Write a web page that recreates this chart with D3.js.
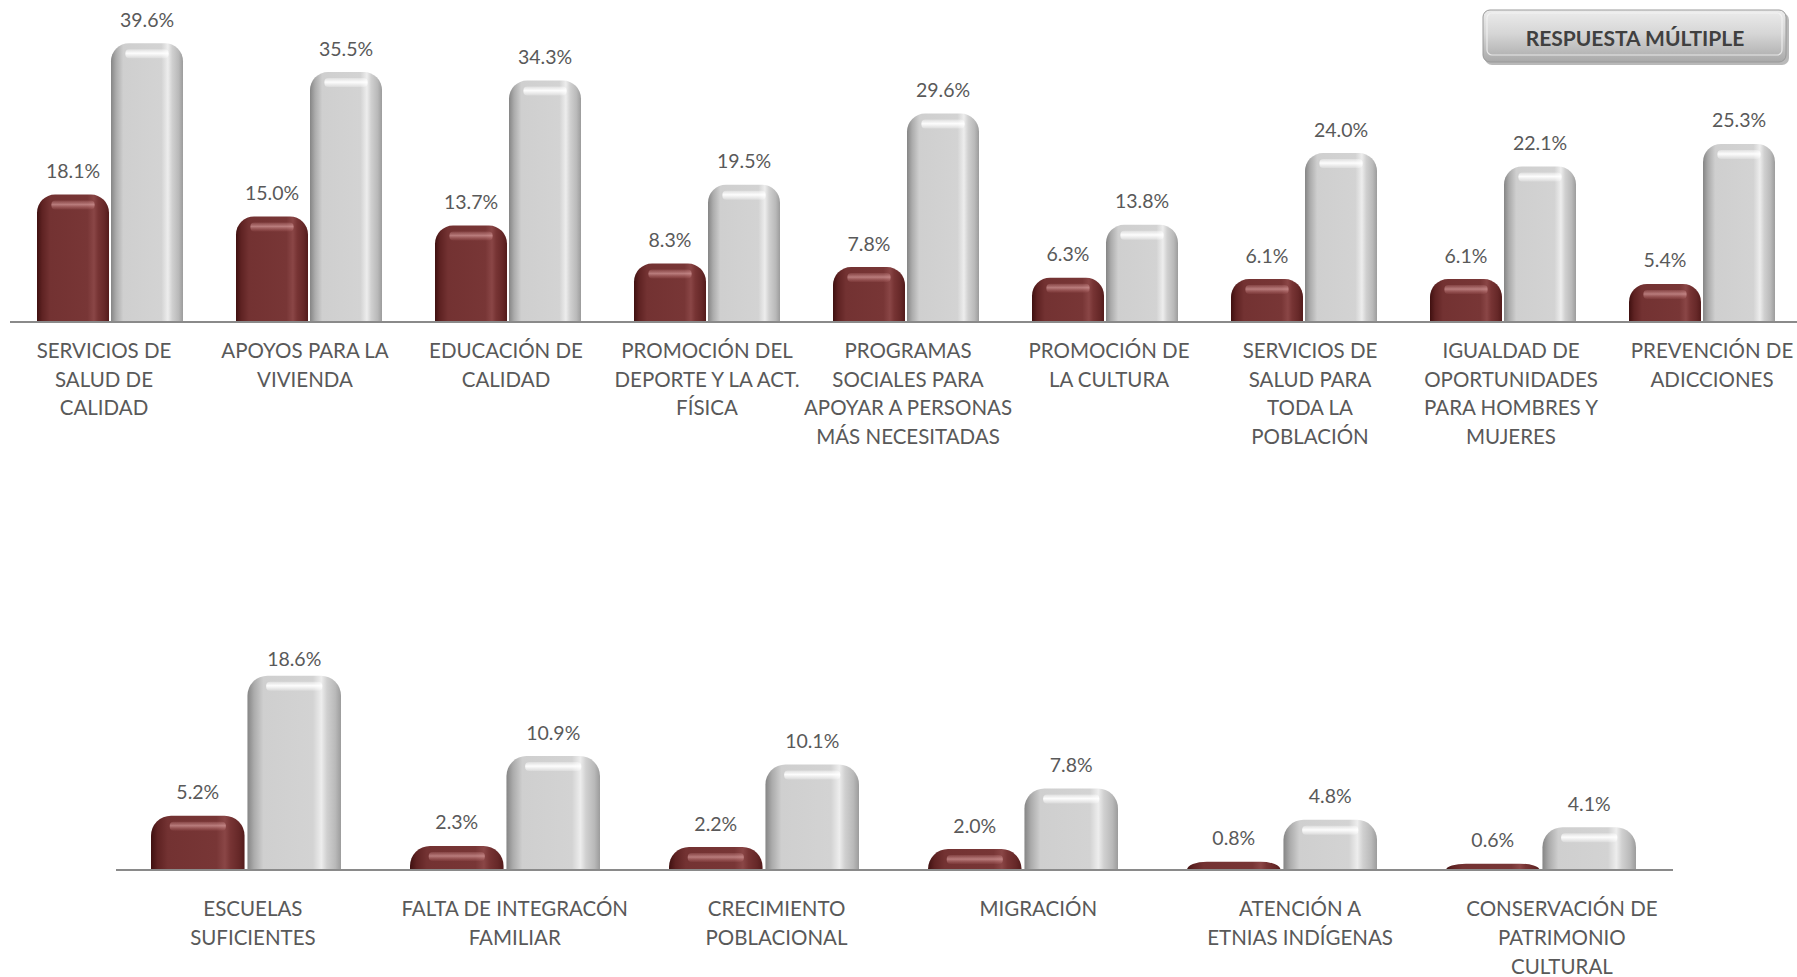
<!DOCTYPE html>
<html><head><meta charset="utf-8">
<script src="https://cdn.jsdelivr.net/npm/d3@7"></script>
<style>
html,body{margin:0;padding:0;background:#fff;}
svg{display:block;}
text{font-family:Lato,"Open Sans",sans-serif;}
</style></head>
<body>
<svg id="chart" width="1797" height="977"></svg>
<script>
// ---- DATA ----
const topCategories = [
  "SERVICIOS DE\nSALUD DE\nCALIDAD",
  "APOYOS PARA LA\nVIVIENDA",
  "EDUCACIÓN DE\nCALIDAD",
  "PROMOCIÓN DEL\nDEPORTE Y LA ACT.\nFÍSICA",
  "PROGRAMAS\nSOCIALES PARA\nAPOYAR A PERSONAS\nMÁS NECESITADAS",
  "PROMOCIÓN DE\nLA CULTURA",
  "SERVICIOS DE\nSALUD PARA\nTODA LA\nPOBLACIÓN",
  "IGUALDAD DE\nOPORTUNIDADES\nPARA HOMBRES Y\nMUJERES",
  "PREVENCIÓN DE\nADICCIONES"
];
const topFirst = [18.1, 15.0, 13.7, 8.3, 7.8, 6.3, 6.1, 6.1, 5.4];
const topTotal = [39.6, 35.5, 34.3, 19.5, 29.6, 13.8, 24.0, 22.1, 25.3];

const bottomCategories = [
  "ESCUELAS\nSUFICIENTES",
  "FALTA DE INTEGRACÓN\nFAMILIAR",
  "CRECIMIENTO\nPOBLACIONAL",
  "MIGRACIÓN",
  "ATENCIÓN A\nETNIAS INDÍGENAS",
  "CONSERVACIÓN DE\nPATRIMONIO\nCULTURAL"
];
const bottomFirst = [5.2, 2.3, 2.2, 2.0, 0.8, 0.6];
const bottomTotal = [18.6, 10.9, 10.1, 7.8, 4.8, 4.1];

const seriesKeys = ["first", "total"];
const legendText = "RESPUESTA MÚLTIPLE";

// ---- DRAW ----
const svg = d3.select("#chart");
const defs = svg.append("defs");

function hGrad(id, stops){
  const g = defs.append("linearGradient").attr("id", id).attr("x1","0").attr("x2","1").attr("y1","0").attr("y2","0");
  stops.forEach(s => g.append("stop").attr("offset", s[0]).attr("stop-color", s[1]));
}
function vGrad(id, stops){
  const g = defs.append("linearGradient").attr("id", id).attr("x1","0").attr("x2","0").attr("y1","0").attr("y2","1");
  stops.forEach(s => g.append("stop").attr("offset", s[0]).attr("stop-color", s[1]).attr("stop-opacity", s[2]===undefined?1:s[2]));
}
hGrad("gRed", [["0%","#3f1010"],["7%","#5e2222"],["18%","#733232"],["70%","#783636"],["79%","#8a4646"],["85%","#773434"],["94%","#662828"],["100%","#531b1b"]]);
hGrad("gGray", [["0%","#858585"],["7%","#ababab"],["17%","#cfcfcf"],["70%","#d3d3d3"],["79%","#ededed"],["85%","#d0d0d0"],["94%","#b9b9b9"],["100%","#9c9c9c"]]);
vGrad("hlRed", [["0%","#e8a9a9",0.15],["45%","#f0b8b8",0.55],["100%","#c87a7a",0.1]]);
vGrad("hlGray", [["0%","#ffffff",0.3],["45%","#ffffff",0.95],["100%","#ffffff",0.2]]);
vGrad("gLegend", [["0%","#ececec"],["45%","#d6d6d6"],["100%","#a9a9a9"]]);
const fills = {first:"url(#gRed)", total:"url(#gGray)"};
const hls = {first:"url(#hlRed)", total:"url(#hlGray)"};

const fmt = d3.format(".1f");

function barPath(x, y0, w, yTop, rMax){
  const h = y0 - yTop;
  const rx = Math.min(rMax, w/2);
  const ry = Math.min(rMax, h);
  return `M${x},${y0} L${x},${yTop+ry} A${rx},${ry} 0 0 1 ${x+rx},${yTop} L${x+w-rx},${yTop} A${rx},${ry} 0 0 1 ${x+w},${yTop+ry} L${x+w},${y0} Z`;
}

function panel(cfg){
  const data = cfg.categories.map((c,i)=>({cat:c, first:cfg.first[i], total:cfg.total[i]}));
  const x = d3.scaleBand().domain(cfg.categories).range(cfg.xRange).paddingInner(0).paddingOuter(0);
  const xl = d3.scaleBand().domain(cfg.categories).range(cfg.labelRange).paddingInner(0).paddingOuter(0);
  const step = x.bandwidth();
  const inner = d3.scaleBand().domain(seriesKeys)
    .range([(step-cfg.groupW)/2, (step+cfg.groupW)/2]).paddingInner(cfg.gap);
  const y = d3.scaleLinear().domain(cfg.yDomain).range(cfg.yRange);
  const y0 = y(0);
  const g = svg.append("g");

  const groups = g.selectAll("g.grp").data(data).enter().append("g")
    .attr("transform", d => `translate(${x(d.cat)},0)`);

  seriesKeys.forEach(k => {
    const bw = inner.bandwidth();
    groups.append("path")
      .attr("d", d => barPath(inner(k), y0, bw, y(d[k]), cfg.radius))
      .attr("fill", fills[k]);
    groups.filter(d => (y0 - y(d[k])) > 14).append("rect")
      .attr("x", inner(k) + bw*0.2)
      .attr("y", d => y(d[k]) + 6)
      .attr("width", bw*0.6)
      .attr("height", 9)
      .attr("rx", 4)
      .attr("fill", hls[k]);
    groups.append("text")
      .attr("x", inner(k) + bw/2)
      .attr("y", d => Math.max(y(d[k]) - cfg.labelOff, cfg.labelMin))
      .attr("text-anchor", "middle")
      .attr("dominant-baseline", "central")
      .attr("font-size", cfg.valueSize)
      .attr("fill", "#595959")
      .text(d => fmt(d[k]) + "%");
  });

  g.append("line")
    .attr("x1", cfg.axisX[0]).attr("x2", cfg.axisX[1])
    .attr("y1", y0).attr("y2", y0)
    .attr("stroke", "#8a8a8a").attr("stroke-width", 2);

  const axis = d3.axisBottom(xl).tickSize(0).tickFormat("");
  const ax = g.append("g").attr("transform", `translate(0,${y0})`).call(axis);
  ax.select(".domain").remove();
  ax.selectAll(".tick").each(function(d){
    const lines = d.split("\n");
    const t = d3.select(this).append("text")
      .attr("text-anchor", "middle")
      .attr("font-size", cfg.catSize)
      .attr("fill", "#595959");
    lines.forEach((ln, i) => {
      t.append("tspan").attr("x", 0)
        .attr("y", cfg.catOff + i*cfg.lineH)
        .attr("dominant-baseline", "central")
        .text(ln);
    });
  });
}

panel({
  categories: topCategories, first: topFirst, total: topTotal,
  xRange: [10.5, 10.5 + 9*199], labelRange: [3.5, 3.5 + 9*201],
  groupW: 146, gap: 0.027,
  yDomain: [0, 40], yRange: [322, 40.4],
  axisX: [10, 1797], radius: 18, labelOff: 24, labelMin: 0,
  valueSize: 19.5, catSize: 20.5, catOff: 28, lineH: 28.6
});

panel({
  categories: bottomCategories, first: bottomFirst, total: bottomTotal,
  xRange: [116.5, 116.5 + 6*259], labelRange: [122, 122 + 6*261.8],
  groupW: 190, gap: 0.03,
  yDomain: [0, 20], yRange: [870, 661],
  axisX: [116, 1673], radius: 20, labelOff: 24, labelMin: 658,
  valueSize: 19.5, catSize: 20.5, catOff: 38, lineH: 29
});

const lg = svg.append("g");
lg.append("rect").attr("x", 1485).attr("y", 13).attr("width", 304).attr("height", 52).attr("rx", 7)
  .attr("fill", "#8a8a8a").attr("opacity", 0.6);
lg.append("rect").attr("x", 1483).attr("y", 10).attr("width", 303).attr("height", 52).attr("rx", 7)
  .attr("fill", "url(#gLegend)").attr("stroke", "#9a9a9a").attr("stroke-width", 1);
lg.append("rect").attr("x", 1487).attr("y", 13).attr("width", 295).attr("height", 42).attr("rx", 5)
  .attr("fill", "none").attr("stroke", "#f4f4f4").attr("stroke-width", 1.2).attr("opacity", 0.8);
lg.append("text").attr("x", 1635).attr("y", 37).attr("text-anchor", "middle")
  .attr("dominant-baseline", "central").attr("font-size", 21).attr("font-weight", "bold")
  .attr("fill", "#404040").text(legendText);
</script>
</body></html>
